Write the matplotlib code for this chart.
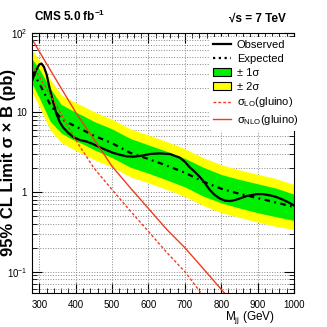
import numpy as np
import matplotlib
matplotlib.use('Agg')
from matplotlib import pyplot as plt
from matplotlib.patches import Patch
from matplotlib.lines import Line2D
from matplotlib.ticker import MultipleLocator, LogLocator, NullFormatter

plt.rcParams['font.family'] = ['Liberation Sans', 'DejaVu Sans']
plt.rcParams['mathtext.fontset'] = 'custom'
plt.rcParams['mathtext.rm'] = 'Liberation Sans'
plt.rcParams['mathtext.it'] = 'Liberation Sans:italic'
plt.rcParams['mathtext.bf'] = 'Liberation Sans:bold'

# expected limit and bands (pb)
band_mass = [280, 300, 330, 360, 390, 420, 450, 500, 550, 600, 650, 700, 750, 800, 850, 900, 950, 1000]
expected = [33, 23, 12.5, 8.3, 7.0, 6.0, 5.1, 4.1, 3.1, 2.6, 2.15, 1.75, 1.35, 1.1, 0.95, 0.84, 0.74, 0.65]
green_hi = [47, 35, 20, 12.6, 10.6, 9.1, 7.7, 6.2, 4.7, 3.9, 3.25, 2.65, 2.05, 1.66, 1.44, 1.27, 1.12, 0.94]
green_lo = [23, 15.2, 7.7, 5.5, 4.6, 4.0, 3.4, 2.7, 2.05, 1.72, 1.42, 1.16, 0.89, 0.73, 0.63, 0.55, 0.49, 0.44]
yellow_hi = [61, 45, 26, 16.6, 14, 12, 10.2, 8.2, 6.2, 5.2, 4.3, 3.5, 2.7, 2.2, 1.9, 1.67, 1.48, 1.24]
yellow_lo = [17.7, 11.8, 6.0, 4.2, 3.5, 3.0, 2.56, 2.06, 1.55, 1.3, 1.08, 0.88, 0.68, 0.55, 0.48, 0.42, 0.37, 0.34]

# observed limit
obs_mass = [280, 290, 300, 306, 313, 320, 328, 337, 347, 356, 365, 380, 393, 411, 430, 448, 466, 485,
            503, 520, 540, 560, 580, 604, 630, 659, 686, 700, 713, 727, 741, 755, 768, 782, 796, 810,
            823, 837, 851, 870, 897, 915, 933, 950, 970, 985, 1000]
observed = [25, 33, 40, 41, 37, 30, 20.5, 14, 9.6, 7.6, 6.5, 5.5, 4.9, 4.5, 4.3, 4.0, 3.65, 3.35,
            3.1, 2.95, 2.8, 2.78, 2.85, 3.0, 3.05, 3.0, 2.7, 2.4, 2.05, 1.8, 1.55, 1.3, 1.07, 0.92, 0.83, 0.78,
            0.77, 0.79, 0.83, 0.89, 0.94, 0.94, 0.91, 0.87, 0.8, 0.74, 0.68]

# gluino cross sections
xs_mass = [280, 300, 350, 400, 450, 500, 550, 600, 650, 700, 750, 800, 850]
xs_nlo = [83, 58, 24, 10, 4.6, 2.1, 1.13, 0.62, 0.34, 0.2, 0.11, 0.06, 0.033]
xs_lo = [40, 28, 11.5, 4.5, 2.0, 1.07, 0.58, 0.32, 0.175, 0.1, 0.05, 0.026, 0.014]

red = '#f03c1e'

fig = plt.figure(figsize=(3.27, 3.27), dpi=100)
ax = fig.add_axes([0.098, 0.104, 0.801, 0.796])

ax.fill_between(band_mass, yellow_lo, yellow_hi, color='#ffff00', lw=0)
ax.fill_between(band_mass, green_lo, green_hi, color='#00ee00', lw=0)
ax.plot(band_mass, expected, color='black', lw=1.6, dashes=[2.5, 2, 0.8, 2])
ax.plot(obs_mass, observed, color='black', lw=1.6)
ax.plot(xs_mass, xs_lo, color=red, lw=1.0, ls=(0, (2, 1.5)))
ax.plot(xs_mass, xs_nlo, color=red, lw=1.0)

ax.set_yscale('log')
ax.set_xlim(280, 1000)
ax.set_ylim(0.054, 100)
ax.set_axisbelow(True)

ax.xaxis.set_major_locator(MultipleLocator(100))
ax.xaxis.set_minor_locator(MultipleLocator(20))
ax.set_yticks([0.1, 1, 10, 100])
ax.set_yticklabels(['$10^{-1}$', '1', '10', '$10^{2}$'])
ax.yaxis.set_minor_locator(LogLocator(base=10, subs=np.arange(2, 10)))
ax.yaxis.set_minor_formatter(NullFormatter())
ax.tick_params(which='both', direction='in', top=True, right=True, labelsize=7)
ax.tick_params(which='major', length=7)
ax.tick_params(which='minor', length=3.5)
ax.tick_params(axis='x', pad=5)

ax.grid(True, which='major', axis='x', color='#888888', ls=':', lw=0.7)
ax.grid(True, which='both', axis='y', color='#888888', ls=':', lw=0.7)

ax.set_xlabel('M$_{\\mathregular{jj}}$ (GeV)', fontsize=8.5, loc='right')
ax.xaxis.set_label_coords(0.925, -0.06)
ax.set_ylabel('95% CL Limit σ × B (pb)', fontsize=12, fontweight='bold')
ax.yaxis.set_label_coords(-0.06, 0.5)

fig.text(0.105, 0.935, 'CMS 5.0 fb$^{\\mathregular{-1}}$', fontsize=8.5, fontweight='bold')
fig.text(0.875, 0.935, '√s = 7 TeV', fontsize=8.5, fontweight='bold', ha='right')

handles = [
    Line2D([], [], color='black', lw=1.6),
    Line2D([], [], color='black', lw=1.6, ls=(0, (1, 1.6))),
    Patch(facecolor='#00ee00', edgecolor='black', lw=0.8),
    Patch(facecolor='#ffff00', edgecolor='black', lw=0.8),
    Line2D([], [], color=red, lw=1.0, ls=(0, (2, 1.5))),
    Line2D([], [], color=red, lw=1.0),
]
labels = ['Observed', 'Expected', '± 1σ', '± 2σ',
          'σ$_{\\mathregular{LO}}$(gluino)', 'σ$_{\\mathregular{NLO}}$(gluino)']
leg = ax.legend(handles, labels, loc='upper left', bbox_to_anchor=(0.68, 0.985), frameon=True,
                fontsize=8, handlelength=1.6, handletextpad=0.5, labelspacing=0.35, borderpad=0.3,
                borderaxespad=0)
leg.get_frame().set_facecolor('white')
leg.get_frame().set_edgecolor('none')
leg.get_frame().set_alpha(1)

fig.savefig('out.png', dpi=100)
